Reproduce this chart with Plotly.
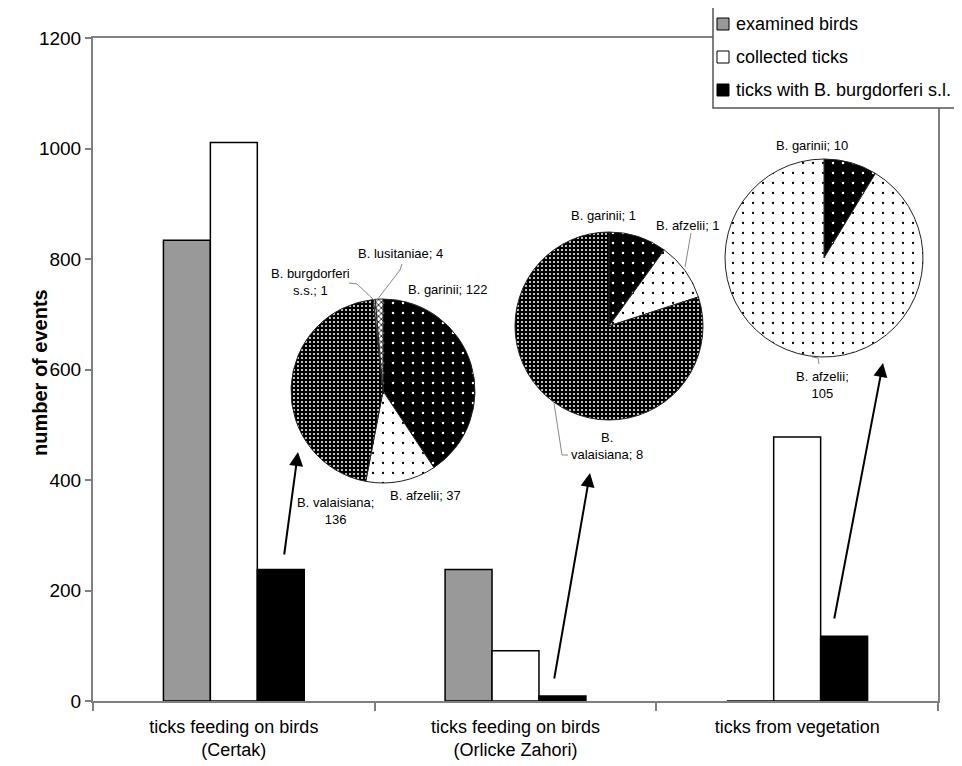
import plotly.graph_objects as go

# ---------------- data ----------------
categories = ["ticks feeding on birds<br>(Certak)",
              "ticks feeding on birds<br>(Orlicke Zahori)",
              "ticks from vegetation"]
series_names = ["examined birds", "collected ticks", "ticks with B. burgdorferi s.l."]
examined_birds = [834, 238, 0]
collected_ticks = [1011, 91, 478]
ticks_bb = [238, 9, 117]
y_ticks = [0, 200, 400, 600, 800, 1000, 1200]

pie1_labels = ["B. garinii", "B. afzelii", "B. valaisiana", "B. burgdorferi s.s.", "B. lusitaniae"]
pie1_values = [122, 37, 136, 1, 4]
pie2_labels = ["B. garinii", "B. afzelii", "B. valaisiana"]
pie2_values = [1, 1, 8]
pie3_labels = ["B. garinii", "B. afzelii"]
pie3_values = [10, 105]

# ---------------- geometry helpers ----------------
# the page body adds an 8px margin, so the figure is drawn 8px smaller/shifted
OFF = 8
W, H = 962 - OFF, 766 - OFF
L, R, T, B = 93, 938, 38, 701          # plot edges in reference (screen) pixels
FONT = "Liberation Sans, Arial, sans-serif"


def px(x):
    return (x - L) / (R - L)


def py(y):
    return (B - y) / (B - T)


def dom(cx, cy, r):
    return dict(x=[px(cx - r), px(cx + r)], y=[py(cy + r), py(cy - r)])


style = {
    "B. garinii": dict(shape=".", bg="black", fg="white", size=10, sol=0.05),
    "B. afzelii": dict(shape=".", bg="white", fg="black", size=10, sol=0.04),
    "B. valaisiana": dict(shape=".", bg="black", fg="white", size=4, sol=0.2),
    "B. burgdorferi s.s.": dict(shape="x", bg="white", fg="black", size=4, sol=0.35),
    "B. lusitaniae": dict(shape="x", bg="white", fg="black", size=4, sol=0.35),
}


def pie(labels, values, domain):
    return go.Pie(
        labels=labels, values=values, sort=False, direction="clockwise", rotation=0,
        textinfo="none", showlegend=False, domain=domain,
        hovertemplate="%{label}; %{value}<extra></extra>",
        marker=dict(
            colors=[style[l]["bg"] for l in labels],
            line=dict(color="#222222", width=1),
            pattern=dict(
                shape=[style[l]["shape"] for l in labels],
                fgcolor=[style[l]["fg"] for l in labels],
                bgcolor=[style[l]["bg"] for l in labels],
                size=[style[l]["size"] for l in labels],
                solidity=[style[l]["sol"] for l in labels],
                fillmode="replace",
            ),
        ),
    )


fig = go.Figure()
bar_colors = ["#999999", "white", "black"]
for name, vals, col in zip(series_names, [examined_birds, collected_ticks, ticks_bb], bar_colors):
    fig.add_trace(go.Bar(x=categories, y=vals, name=name, showlegend=False,
                         marker=dict(color=col, line=dict(color="black", width=1.5))))

fig.add_trace(pie(pie1_labels, pie1_values, dom(383, 391, 92)))
fig.add_trace(pie(pie2_labels, pie2_values, dom(609, 326, 94)))
fig.add_trace(pie(pie3_labels, pie3_values, dom(824, 258, 99)))

ann = []
shapes = []


def label(x, y, text, size=13, anchor="center"):
    ann.append(dict(x=px(x), y=py(y), xref="paper", yref="paper", text=text,
                    showarrow=False, font=dict(size=size, color="black", family=FONT),
                    xanchor=anchor, yanchor="middle"))


def v(labels, values, name):
    return values[labels.index(name)]


# pie 1 labels
label(400, 254, f"B. lusitaniae; {v(pie1_labels, pie1_values, 'B. lusitaniae')}")
label(310, 282, f"B. burgdorferi<br>s.s.; {v(pie1_labels, pie1_values, 'B. burgdorferi s.s.')}")
label(448, 289, f"B. garinii; {v(pie1_labels, pie1_values, 'B. garinii')}")
label(425, 495, f"B. afzelii; {v(pie1_labels, pie1_values, 'B. afzelii')}")
label(335, 511, f"B. valaisiana;<br>{v(pie1_labels, pie1_values, 'B. valaisiana')}")
# pie 2 labels
label(603, 215, f"B. garinii; {v(pie2_labels, pie2_values, 'B. garinii')}")
label(688, 225, f"B. afzelii; {v(pie2_labels, pie2_values, 'B. afzelii')}")
label(607, 446, f"B.<br>valaisiana; {v(pie2_labels, pie2_values, 'B. valaisiana')}")
# pie 3 labels
label(812, 145, f"B. garinii; {v(pie3_labels, pie3_values, 'B. garinii')}")
label(822, 385, f"B. afzelii;<br>{v(pie3_labels, pie3_values, 'B. afzelii')}")

# y axis title
ann.append(dict(x=px(40), y=py(372), xref="paper", yref="paper", text="<b>number of events</b>",
                textangle=-90, showarrow=False, xanchor="center", yanchor="middle",
                font=dict(size=20, color="black", family=FONT)))


def arrow(tx, ty, hx, hy):
    ann.append(dict(x=px(hx), y=py(hy), xref="paper", yref="paper", text="",
                    showarrow=True, ax=tx - hx, ay=ty - hy, arrowhead=2, arrowsize=1.4,
                    arrowwidth=2, arrowcolor="black"))


arrow(284, 556, 298, 452)
arrow(554, 680, 590, 473)
arrow(834, 620, 883, 363)


def leader(points):
    path = "M " + " L ".join(f"{px(x):.5f},{py(y):.5f}" for x, y in points)
    shapes.append(dict(type="path", xref="paper", yref="paper", path=path,
                       line=dict(color="#888888", width=1)))


leader([(402, 264), (400, 270), (377, 300)])
leader([(349, 283), (357, 284), (374, 300)])
leader([(691, 233), (685, 267)])
leader([(554, 403), (562, 455), (568, 455)])
leader([(812, 357), (818, 358), (819, 364)])

# legend box (drawn manually, extends past the right edge like the reference)
shapes.append(dict(type="rect", xref="paper", yref="paper", layer="above",
                   x0=px(713), x1=px(985), y0=py(108), y1=py(7),
                   line=dict(color="#555555", width=1.5), fillcolor="white"))
legend_rows = [24, 57, 90]
for name, col, yc in zip(series_names, bar_colors, legend_rows):
    shapes.append(dict(type="rect", xref="paper", yref="paper", layer="above",
                       x0=px(717), x1=px(729), y0=py(yc + 6), y1=py(yc - 6),
                       line=dict(color="black", width=1), fillcolor=col))
    label(734, yc, name, size=18, anchor="left")

fig.update_layout(
    width=W, height=H,
    margin=dict(l=L - OFF, r=W - (R - OFF), t=T - OFF, b=H - (B - OFF), autoexpand=False),
    paper_bgcolor="white", plot_bgcolor="white",
    font=dict(family=FONT, color="black"),
    barmode="group", bargap=0.5, bargroupgap=0,
    showlegend=False,
    annotations=ann, shapes=shapes,
    xaxis=dict(type="category", tickson="boundaries", ticks="outside", ticklen=8,
               tickcolor="#808080", tickwidth=1.5, showline=True, linecolor="#808080",
               linewidth=2, mirror=True, showgrid=False, ticklabelstandoff=8,
               tickfont=dict(size=18, family=FONT, color="black")),
    yaxis=dict(range=[0, 1200], tickvals=y_ticks, ticks="outside", ticklen=6,
               tickcolor="#808080", tickwidth=1.5, showline=True, linecolor="#808080",
               linewidth=2, mirror=True, showgrid=False, zeroline=False,
               tickfont=dict(size=19, family=FONT, color="black")),
)

fig.write_html("out.html")
